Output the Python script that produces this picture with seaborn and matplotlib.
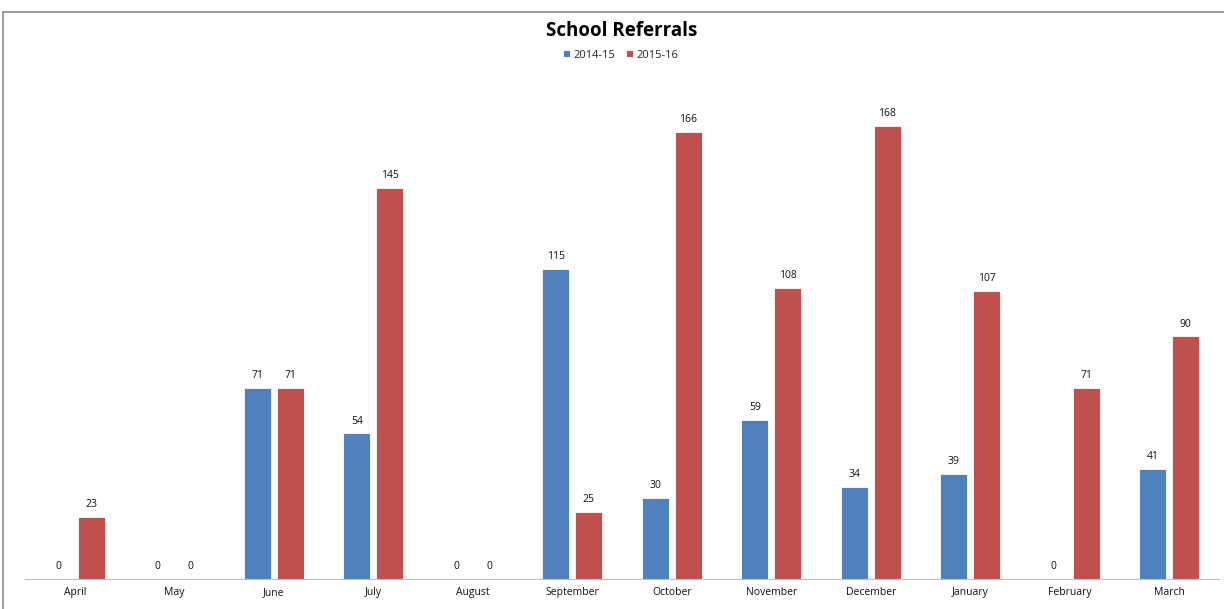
import numpy as np
import matplotlib
matplotlib.use("Agg")
import matplotlib.pyplot as plt
import pandas as pd
import seaborn as sns

# Data
months = ["April", "May", "June", "July", "August", "September", "October",
          "November", "December", "January", "February", "March"]
referrals_1415 = [0, 0, 71, 54, 0, 115, 30, 59, 34, 39, 0, 41]
referrals_1516 = [23, 0, 71, 145, 0, 25, 166, 108, 168, 107, 71, 90]
seasons = ["2014-15", "2015-16"]
colors = ["#4F81BD", "#C0504D"]

data = pd.DataFrame({
    "month": months * 2,
    "referrals": referrals_1415 + referrals_1516,
    "season": [seasons[0]] * len(months) + [seasons[1]] * len(months),
})

sns.set_style("white")
plt.rcParams["font.family"] = ["Open Sans", "DejaVu Sans"]

fig = plt.figure(figsize=(12.24, 6.09), dpi=100)
ax = fig.add_axes([25 / 1224, 30 / 609, 1194 / 1224, 539 / 609])

sns.barplot(data=data, x="month", y="referrals", hue="season", order=months,
            hue_order=seasons, palette=colors, width=0.66, gap=0.18,
            edgecolor="white", linewidth=0.6, saturation=1, ax=ax)

for container in ax.containers:
    ax.bar_label(container, padding=5, fontsize=7.5, color="#111111")

ax.set_ylim(0, 200)
ax.set_xlim(-0.5, len(months) - 0.5)
ax.set_xlabel("")
ax.set_ylabel("")
ax.set_yticks([])
ax.tick_params(axis="x", length=0, labelsize=7.5, pad=6, labelcolor="#111111")
for side in ["top", "right", "left"]:
    ax.spines[side].set_visible(False)
ax.spines["bottom"].set_color("#BFBFBF")

ax.legend_.remove()
handles, labels = ax.get_legend_handles_labels()
fig.legend(handles, labels, loc="center", bbox_to_anchor=(0.507, 1 - 55 / 609),
           ncol=2, frameon=False, fontsize=8, handlelength=0.6,
           handleheight=0.6, columnspacing=1.0, handletextpad=0.3)

fig.text(0.508, 1 - 31 / 609, "School Referrals", ha="center", va="center",
         fontsize=13.5, fontweight="bold", color="black")

# outer chart frame
fig.add_artist(plt.Line2D([3 / 1224, 1.0], [1 - 12 / 609, 1 - 12 / 609],
                          color="#8C8C8C", linewidth=1.2))
fig.add_artist(plt.Line2D([3 / 1224, 3 / 1224], [0, 1 - 12 / 609],
                          color="#8C8C8C", linewidth=1.2))

fig.savefig("out.png", dpi=100)
